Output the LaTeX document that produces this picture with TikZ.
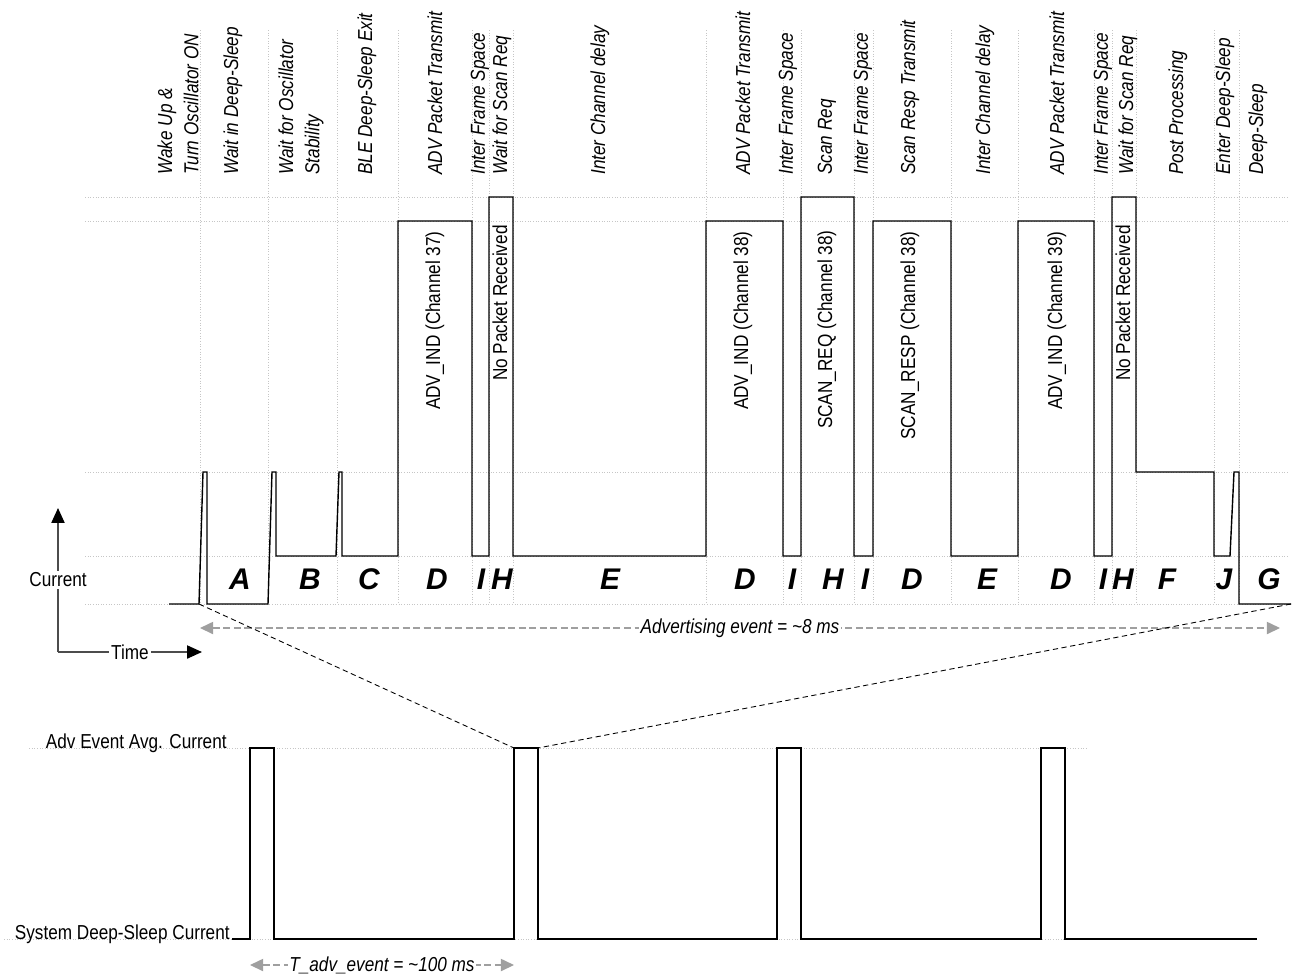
\documentclass[tikz,border=0pt]{standalone}
\usepackage{fontspec}
\setmainfont{Liberation Sans}[FakeStretch=0.85]
\newfontfamily\segfont{Liberation Sans}
\usepackage{tikz}
\usetikzlibrary{arrows.meta}
\tikzstyle{gridln}=[gray!45, densely dotted, line width=0.5pt]
\tikzstyle{wave}=[black, line width=0.8pt]
\tikzstyle{lowwave}=[black, line width=0.6pt]
\tikzstyle{toplbl}=[rotate=90, anchor=west, align=left, inner sep=0pt, font=\fontsize{11.5}{15}\selectfont\itshape]
\tikzstyle{pktlbl}=[rotate=90, anchor=east, inner sep=0pt, font=\fontsize{11.5}{14}\selectfont]
\tikzstyle{seglbl}=[inner sep=0pt, font=\segfont\fontsize{17}{20}\selectfont\bfseries\itshape]
\tikzstyle{axlbl}=[fill=white, text=black, inner sep=1pt, font=\fontsize{11.5}{14}\selectfont]
\tikzstyle{levlbl}=[anchor=base east, inner sep=0pt, font=\fontsize{11.5}{14}\selectfont]
\tikzstyle{axis}=[gray!60!black, line width=0.8pt, -{Triangle[color=black, length=8.5pt, width=7.5pt]}]
\tikzstyle{span}=[gray!75, dash pattern=on 4pt off 2pt, line width=0.7pt, {Triangle[length=7.5pt, width=7pt]}-{Triangle[length=7.5pt, width=7pt]}]
\tikzstyle{zoomln}=[black, dash pattern=on 3pt off 2pt, line width=0.5pt]

\begin{document}
\begin{tikzpicture}[x=0.02cm, y=-0.02cm]
\useasboundingbox (0,0) rectangle (1295,975);

% grid
\draw[gridln] (85,197) -- (1287,197);
\draw[gridln] (85,221) -- (1287,221);
\draw[gridln] (85,472) -- (1287,472);
\draw[gridln] (85,556) -- (1287,556);
\draw[gridln] (85,604) -- (1287,604);
\draw[gridln] (200,30) -- (200,604);
\draw[gridln] (268,30) -- (268,604);
\draw[gridln] (337,30) -- (337,604);
\draw[gridln] (398,30) -- (398,604);
\draw[gridln] (472,30) -- (472,604);
\draw[gridln] (489,30) -- (489,604);
\draw[gridln] (513,30) -- (513,604);
\draw[gridln] (706,30) -- (706,604);
\draw[gridln] (783,30) -- (783,604);
\draw[gridln] (801,30) -- (801,604);
\draw[gridln] (854,30) -- (854,604);
\draw[gridln] (873,30) -- (873,604);
\draw[gridln] (951,30) -- (951,604);
\draw[gridln] (1018,30) -- (1018,604);
\draw[gridln] (1094,30) -- (1094,604);
\draw[gridln] (1112,30) -- (1112,604);
\draw[gridln] (1136,30) -- (1136,604);
\draw[gridln] (1214,30) -- (1214,604);
\draw[gridln] (1239,30) -- (1239,604);
\draw[gridln] (29,748) -- (1088,748);
\draw[gridln] (4,939) -- (1088,939);

% phase labels
\node[toplbl] (t1) at (178,175) {Wake Up \&\\Turn Oscillator ON};
\node[toplbl] (t2) at (233,175) {Wait in Deep-Sleep};
\node[toplbl] (t3) at (301,175) {Wait for Oscillator\\Stability};
\node[toplbl] (t4) at (367,175) {BLE Deep-Sleep Exit};
\node[toplbl] (t5) at (435,175) {ADV Packet Transmit};
\node[toplbl] (t6) at (480,175) {Inter Frame Space};
\node[toplbl] (t7) at (502,175) {Wait for Scan Req};
\node[toplbl] (t8) at (600,175) {Inter Channel delay};
\node[toplbl] (t9) at (743,175) {ADV Packet Transmit};
\node[toplbl] (t10) at (788,175) {Inter Frame Space};
\node[toplbl] (t11) at (827,175) {Scan Req};
\node[toplbl] (t12) at (863,175) {Inter Frame Space};
\node[toplbl] (t13) at (910,175) {Scan Resp Transmit};
\node[toplbl] (t14) at (985,175) {Inter Channel delay};
\node[toplbl] (t15) at (1057,175) {ADV Packet Transmit};
\node[toplbl] (t16) at (1103,175) {Inter Frame Space};
\node[toplbl] (t17) at (1128,175) {Wait for Scan Req};
\node[toplbl] (t18) at (1178,175) {Post Processing};
\node[toplbl] (t19) at (1225,175) {Enter Deep-Sleep};
\node[toplbl] (t20) at (1258,175) {Deep-Sleep};

% current during one advertising event
\draw[wave] (169,604) -- (199,604) -- (203,472) -- (207,472) -- (207,604) -- (268,604) -- (272,472) -- (276,472) -- (276,556) -- (336,556) -- (339,472) -- (342,472) -- (342,556) -- (398,556) -- (398,221) -- (472,221) -- (472,556) -- (489,556) -- (489,197) -- (513,197) -- (513,556) -- (706,556) -- (706,221) -- (783,221) -- (783,556) -- (801,556) -- (801,197) -- (854,197) -- (854,556) -- (873,556) -- (873,221) -- (951,221) -- (951,556) -- (1018,556) -- (1018,221) -- (1094,221) -- (1094,556) -- (1112,556) -- (1112,197) -- (1136,197) -- (1136,472) -- (1214,472) -- (1214,556) -- (1230,556) -- (1234,472) -- (1239,472) -- (1239,604) -- (1291,604);

\node[pktlbl] (p1) at (435,231) {ADV\_IND (Channel 37)};
\node[pktlbl] (p2) at (500,225) {No Packet Received};
\node[pktlbl] (p3) at (743,231) {ADV\_IND (Channel 38)};
\node[pktlbl] (p4) at (827,230) {SCAN\_REQ (Channel 38)};
\node[pktlbl] (p5) at (910,231) {SCAN\_RESP (Channel 38)};
\node[pktlbl] (p6) at (1057,231) {ADV\_IND (Channel 39)};
\node[pktlbl] (p7) at (1123,225) {No Packet Received};

\node[seglbl] (sA) at (240,579) {A};
\node[seglbl] (sB) at (310,579) {B};
\node[seglbl] (sC) at (369,579) {C};
\node[seglbl] (sD1) at (437,579) {D};
\node[seglbl] (sI1) at (481,579) {I};
\node[seglbl] (sH1) at (502,579) {H};
\node[seglbl] (sE1) at (610,579) {E};
\node[seglbl] (sD2) at (745,579) {D};
\node[seglbl] (sI2) at (792,579) {I};
\node[seglbl] (sH2) at (833,579) {H};
\node[seglbl] (sI3) at (865,579) {I};
\node[seglbl] (sD3) at (912,579) {D};
\node[seglbl] (sE2) at (987,579) {E};
\node[seglbl] (sD4) at (1061,579) {D};
\node[seglbl] (sI4) at (1103,579) {I};
\node[seglbl] (sH3) at (1123,579) {H};
\node[seglbl] (sF) at (1167,579) {F};
\node[seglbl] (sJ) at (1224,579) {J};
\node[seglbl] (sG) at (1269,579) {G};

% axes
\coordinate (orig) at (58,652);
\coordinate (ytip) at (58,508);
\coordinate (xtip) at (202,652);
\draw[axis] (orig) -- (ytip) node[axlbl, midway] (cur) {Current};
\draw[axis] (orig) -- (xtip) node[axlbl, midway] (tim) {Time};

% advertising event span
\coordinate (advL) at (200,628);
\coordinate (advR) at (1280,628);
\draw[span] (advL) -- (advR) node[axlbl, midway, font=\fontsize{11.5}{14}\selectfont\itshape] (advtxt) {Advertising event = \textasciitilde8 ms};

% zoom lines
\coordinate (evL) at (199,604);
\coordinate (evR) at (1291,604);
\coordinate (puL) at (514,748);
\coordinate (puR) at (538,748);
\draw[zoomln] (evL) -- (puL);
\draw[zoomln] (evR) -- (puR);

% average current over time
\draw[lowwave] (232,939) -- (250,939) -- (250,748) -- (274,748) -- (274,939) -- (514,939) -- (514,748) -- (538,748) -- (538,939) -- (777,939) -- (777,748) -- (801,748) -- (801,939) -- (1041,939) -- (1041,748) -- (1065,748) -- (1065,939) -- (1257,939);
\node[levlbl] (avg) at (227,748) {Adv Event Avg. Current};
\node[levlbl] (slp) at (230,939) {System Deep-Sleep Current};

\coordinate (perL) at (250,965);
\coordinate (perR) at (514,965);
\draw[span] (perL) -- (perR) node[axlbl, midway, font=\fontsize{11.5}{14}\selectfont\itshape] (pertxt) {T\_adv\_event = \textasciitilde100 ms};
\end{tikzpicture}
\end{document}
